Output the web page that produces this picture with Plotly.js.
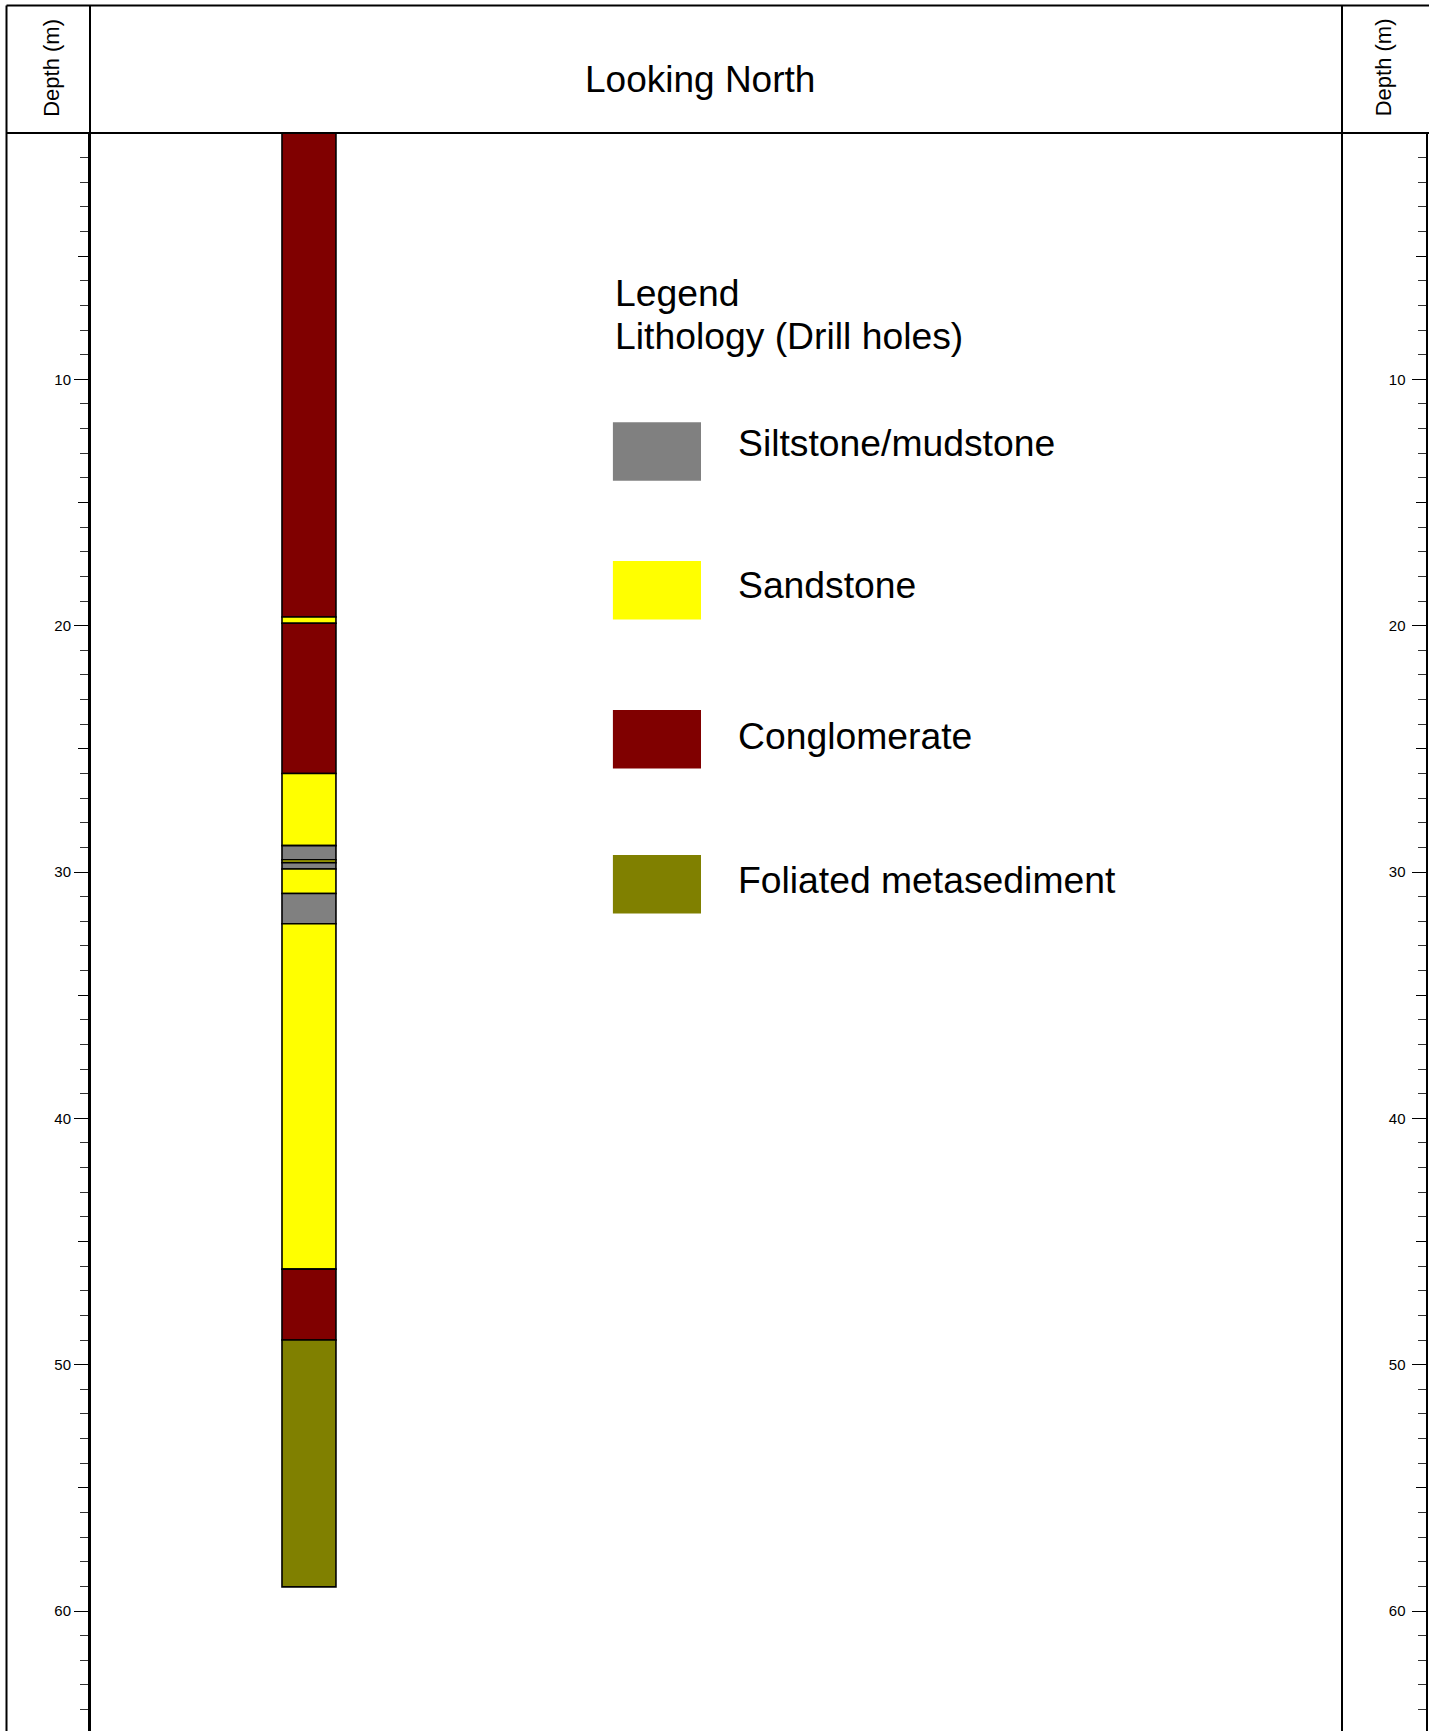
<!DOCTYPE html>
<html>
<head>
<meta charset="utf-8">
<script src="https://cdn.plot.ly/plotly-3.0.1.min.js"></script>
<style>
html,body{margin:0;padding:0;background:#ffffff;}
#chart{width:1429px;height:1731px;}
</style>
</head>
<body>
<div id="chart"></div>
<script>
// ---------------- DATA ----------------
const holeName = "DH";
const layerTop    = [0, 19.65, 19.9, 26.0, 28.93, 29.5, 29.62, 29.88, 30.87, 32.1, 46.12, 49.0];
const layerBottom = [19.65, 19.9, 26.0, 28.93, 29.5, 29.62, 29.88, 30.87, 32.1, 46.12, 49.0, 59.02];
const layerLithology = ["Conglomerate","Sandstone","Conglomerate","Sandstone","Siltstone/mudstone","Sandstone",
                        "Siltstone/mudstone","Sandstone","Siltstone/mudstone","Sandstone","Conglomerate","Foliated metasediment"];
const lithologyNames  = ["Siltstone/mudstone","Sandstone","Conglomerate","Foliated metasediment"];
const lithologyColors = ["#808080","#ffff00","#800000","#808000"];
const majorTicks = [10,20,30,40,50,60];
const majorTickLabels = ["10","20","30","40","50","60"];
const mediumTicks = [5,15,25,35,45,55,65];
const titleText = "Looking North";
const depthTitle = "Depth (m)";
const legendTitle1 = "Legend";
const legendTitle2 = "Lithology (Drill holes)";

// ---------------- LAYOUT CONSTANTS ----------------
const W = 1429, H = 1731;
const FONT = "Liberation Sans, Arial, Helvetica, sans-serif";
const OUTER_L = 6.5, OUTER_T = 5.5;
const X0 = 90, X1 = 1342, XR = 1426.5, YT = 133;
const yRange = [64.87, 0];
const px = v => v / W;
const py = v => 1 - v / H;

const colorOf = name => lithologyColors[lithologyNames.indexOf(name)];

const barTrace = {
  type: "bar",
  x: layerTop.map(() => holeName),
  y: layerTop.map((t, i) => layerBottom[i] - t),
  base: layerTop,
  width: 0.431,
  marker: { color: layerLithology.map(colorOf), line: { color: "#000000", width: 1.6 } },
  hoverinfo: "skip",
  showlegend: false,
  xaxis: "x", yaxis: "y"
};
const dummy = ax => ({ type: "scatter", x: [], y: [], xaxis: "x", yaxis: ax, showlegend: false, hoverinfo: "skip" });

const tickFont = { family: FONT, size: 15, color: "#000000" };
const majorAxis = extra => Object.assign({
  range: yRange, autorange: false, showline: true, linecolor: "#000000", linewidth: 2,
  ticks: "outside", tickmode: "array", tickvals: majorTicks, ticktext: majorTickLabels,
  ticklen: 14, tickwidth: 1, tickcolor: "#000000", tickfont: tickFont,
  showgrid: false, zeroline: false, fixedrange: true,
  minor: { tickmode: "linear", tick0: 0, dtick: 1, ticks: "outside", ticklen: 8, tickwidth: 1, tickcolor: "#333333", showgrid: false }
}, extra);
const mediumAxis = extra => Object.assign({
  range: yRange, autorange: false, showline: false, tickmode: "array", tickvals: mediumTicks,
  ticks: "outside", ticklen: 11, tickwidth: 1, tickcolor: "#000000", showticklabels: false,
  showgrid: false, zeroline: false, fixedrange: true
}, extra);

const lineShape = (x0, y0, x1, y1, w) => ({
  type: "line", xref: "paper", yref: "paper", x0: px(x0), y0: py(y0), x1: px(x1), y1: py(y1),
  line: { color: "#000000", width: w }, layer: "above"
});

const shapes = [
  lineShape(OUTER_L, OUTER_T, W, OUTER_T, 2),
  lineShape(OUTER_L, OUTER_T, OUTER_L, H, 2),
  lineShape(OUTER_L, YT, W, YT, 2),
  lineShape(X0, OUTER_T, X0, H, 2),
  lineShape(X1, OUTER_T, X1, H, 2)
];

// legend swatches
const legendSwatchX = [612.9, 701];
const legendRowTop = [422.2, 560.9, 710.1, 855.0];
const legendSwatchH = 58.5;
const legendLabelY = [442.4, 584.6, 735.7, 879.5];
lithologyNames.forEach((n, i) => {
  shapes.push({
    type: "rect", xref: "paper", yref: "paper",
    x0: px(legendSwatchX[0]), x1: px(legendSwatchX[1]),
    y0: py(legendRowTop[i]), y1: py(legendRowTop[i] + legendSwatchH),
    fillcolor: lithologyColors[i], line: { width: 0 }
  });
});

const CAPFIX = 0.8; // shift from cap-center to box-center
const ann = (text, x, y, size, xanchor, extra) => Object.assign({
  text: text, xref: "paper", yref: "paper", x: px(x), y: py(y + CAPFIX),
  xanchor: xanchor, yanchor: "middle", showarrow: false,
  font: { family: FONT, size: size, color: "#000000" }
}, extra || {});

const annotations = [
  ann(titleText, 699.5, 78.7, 37, "center"),
  ann(depthTitle, 51.5, 67.5, 22, "center", { textangle: -90 }),
  ann(depthTitle, 1383.5, 67, 22, "center", { textangle: -90 }),
  ann(legendTitle1, 613, 291.9, 37.3, "left"),
  ann(legendTitle2, 613, 335.2, 37.3, "left")
];
lithologyNames.forEach((n, i) => annotations.push(ann(n, 736.3, legendLabelY[i], 37.3, "left")));

const layout = {
  width: W, height: H,
  margin: { l: 0, r: 0, t: 0, b: 0, pad: 0 },
  paper_bgcolor: "#ffffff", plot_bgcolor: "rgba(0,0,0,0)",
  showlegend: false, barmode: "overlay",
  xaxis: { domain: [px(X0), px(X1)], type: "category", range: [-1.749, 8.251], visible: false, fixedrange: true },
  yaxis: majorAxis({ domain: [0, py(YT)], anchor: "x", side: "left" }),
  yaxis2: majorAxis({ overlaying: "y", anchor: "free", position: px(XR), side: "left", ticklabelstandoff: 3 }),
  yaxis3: mediumAxis({ overlaying: "y", anchor: "x", side: "left" }),
  yaxis4: mediumAxis({ overlaying: "y", anchor: "free", position: px(XR), side: "left" }),
  shapes: shapes,
  annotations: annotations
};

Plotly.newPlot("chart", [barTrace, dummy("y2"), dummy("y3"), dummy("y4")], layout, { staticPlot: true, displayModeBar: false });
</script>
</body>
</html>
